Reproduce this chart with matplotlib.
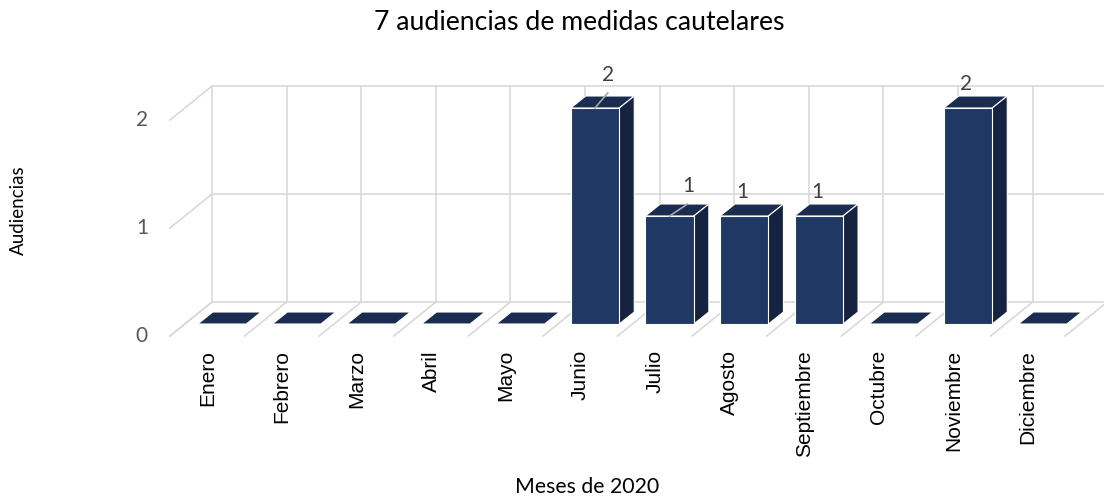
import matplotlib
matplotlib.use("Agg")
import matplotlib.pyplot as plt
from matplotlib.patches import Polygon

# Datos: audiencias de medidas cautelares por mes (2020)
meses = ["Enero", "Febrero", "Marzo", "Abril", "Mayo", "Junio", "Julio",
         "Agosto", "Septiembre", "Octubre", "Noviembre", "Diciembre"]
audiencias = [0, 0, 0, 0, 0, 2, 1, 1, 1, 0, 2, 0]
niveles_y = [0, 1, 2]

titulo = "7 audiencias de medidas cautelares"
etiqueta_x = "Meses de 2020"
etiqueta_y = "Audiencias"

# Etiquetas de datos desplazadas a mano (con línea guía)
etiquetas_movidas = {"Junio": (0.18, 0.31), "Julio": (0.25, 0.28)}

# Geometría de la vista pseudo-3D (en unidades de categoría / valor)
W, H, DPI = 1104, 499, 100
PX_CAT = 74.6      # píxeles por categoría
PX_VAL = 108.0     # píxeles por unidad de valor
X0, Y0 = 222.0, 324.0   # centro de la primera barra, base del frente

ANCHO = 48.5 / PX_CAT                       # ancho frontal de la barra
PROF_X, PROF_Y = 15 / PX_CAT, 12 / PX_VAL   # profundidad de la barra
PARED_X, PARED_Y = -10 / PX_CAT, 22 / PX_VAL  # desplazamiento de la pared
DIAG_X, DIAG_Y = -42 / PX_CAT, -34 / PX_VAL   # líneas del piso

C_FRENTE = "#1F3864"
C_TAPA = "#1A2C50"
C_LADO = "#152340"
C_GRID = "#D9D9D9"

plt.rcParams['font.family'] = ['Lato', 'DejaVu Sans']

fig = plt.figure(figsize=(W / DPI, H / DPI), dpi=DPI)
ax = fig.add_axes([0, 0, 1, 1])
ax.set_xlim(-X0 / PX_CAT, (W - X0) / PX_CAT)
ax.set_ylim((Y0 - H) / PX_VAL, Y0 / PX_VAL)
ax.axis("off")

n = len(meses)
tope = max(niveles_y)

# Pared del fondo: líneas verticales y horizontales
for i in range(n + 1):
    xw = i + PARED_X
    ax.plot([xw, xw], [PARED_Y, tope + PARED_Y], color=C_GRID, lw=1.2, zorder=1)
    # líneas del piso hacia el frente
    ax.plot([xw, xw + DIAG_X], [PARED_Y, PARED_Y + DIAG_Y], color=C_GRID, lw=1.2, zorder=1)

for v in niveles_y:
    ax.plot([PARED_X, n + PARED_X], [v + PARED_Y, v + PARED_Y], color=C_GRID, lw=1.2, zorder=1)
    # pared lateral izquierda
    ax.plot([PARED_X, PARED_X + DIAG_X], [v + PARED_Y, v + PARED_Y + DIAG_Y],
            color=C_GRID, lw=1.2, zorder=1)
    ax.text(PARED_X + DIAG_X - 22 / PX_CAT, v + PARED_Y + DIAG_Y, str(v),
            ha="right", va="center", fontsize=15, color="#595959")

# Barras 3D
for i, (mes, val) in enumerate(zip(meses, audiencias)):
    x1, x2 = i - ANCHO / 2, i + ANCHO / 2
    tapa = [(x1, val), (x2, val), (x2 + PROF_X, val + PROF_Y), (x1 + PROF_X, val + PROF_Y)]
    ax.add_patch(Polygon(tapa, closed=True, facecolor=C_TAPA, edgecolor="white",
                         lw=0.8, zorder=3))
    if val > 0:
        frente = [(x1, 0), (x2, 0), (x2, val), (x1, val)]
        lado = [(x2, 0), (x2 + PROF_X, PROF_Y), (x2 + PROF_X, val + PROF_Y), (x2, val)]
        ax.add_patch(Polygon(lado, closed=True, facecolor=C_LADO, edgecolor="white",
                             lw=0.8, zorder=3))
        ax.add_patch(Polygon(frente, closed=True, facecolor=C_FRENTE, edgecolor="white",
                             lw=0.8, zorder=4))
        if mes in etiquetas_movidas:
            dx, dy = etiquetas_movidas[mes]
            ax.plot([i, i + dx * 0.95], [val, val + dy - 0.17], color="#A6A6A6",
                    lw=1.2, zorder=5)
            ax.text(i + dx, val + dy, str(val), ha="center", va="center",
                    fontsize=15, color="#404040", zorder=6)
        else:
            ax.text(i - 0.02, val + 0.225, str(val), ha="center", va="center",
                    fontsize=15, color="#404040", zorder=6)

    # nombre del mes bajo la celda del piso
    ax.text(i + PARED_X + DIAG_X + 0.5, PARED_Y + DIAG_Y - 14 / PX_VAL, mes,
            rotation=90, ha="center", va="top", fontsize=15, color="black",
            family=["Liberation Sans", "DejaVu Sans"])

fig.text(579 / W, 1 - 22 / H, titulo, ha="center", va="center", fontsize=19.2, color="black")
fig.text(587 / W, 1 - 487 / H, etiqueta_x, ha="center", va="center", fontsize=15.3, color="black")
fig.text(18 / W, 1 - 210 / H, etiqueta_y, ha="center", va="center", rotation=90,
         fontsize=13.5, color="black")

fig.savefig("out.png", dpi=DPI)
